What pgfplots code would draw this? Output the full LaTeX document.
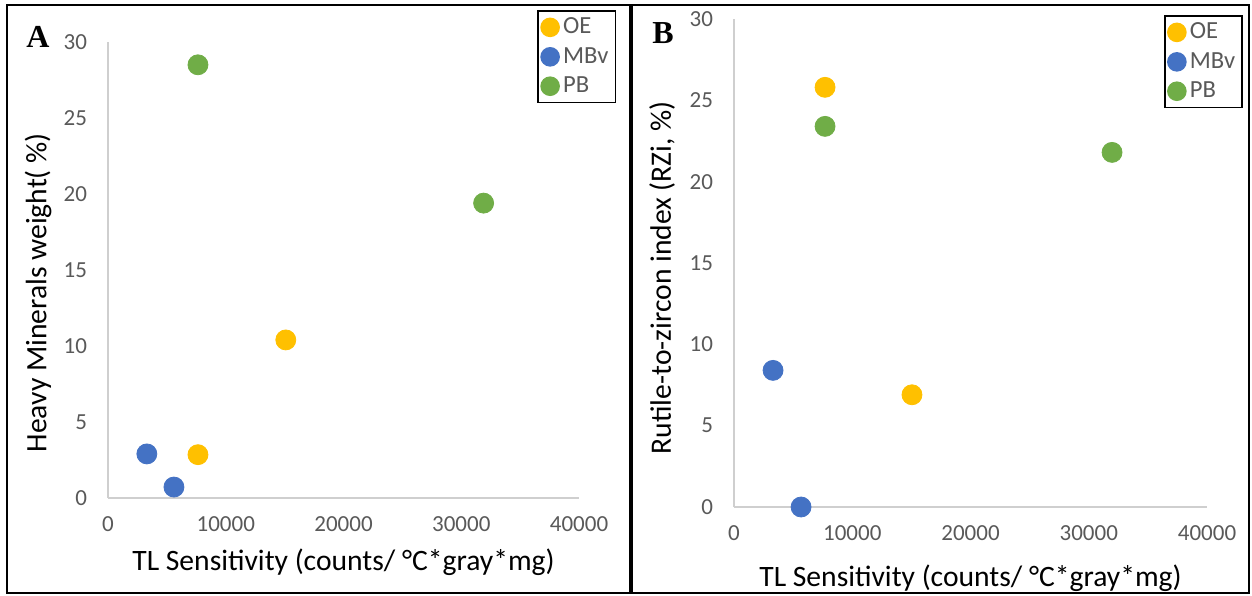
\documentclass[border=0pt]{standalone}
\usepackage{pgfplots}
\pgfplotsset{compat=1.18}
\usepackage{fontspec}
\setmainfont{Carlito}
\newfontfamily\panelfont{Liberation Serif}
\definecolor{oe}{HTML}{FFC000}
\definecolor{mbv}{HTML}{4472C4}
\definecolor{pb}{HTML}{70AD47}
\definecolor{tickgray}{HTML}{595959}
\definecolor{axgray}{HTML}{CFCFCF}

% shared look of both panels (1 px of the reference = 0.5pt)
\pgfplotsset{panel/.style={
  scale only axis, clip=false,
  xmin=0, xmax=40000, ymin=0, ymax=30,
  axis lines=left, axis line style={draw=axgray, line width=0.9pt, -},
  xtick={0,10000,20000,30000,40000}, ytick={0,5,10,15,20,25,30},
  major tick length=0pt, tick style={draw=none},
  /pgf/number format/assume math mode=true,
  /pgf/number format/1000 sep={}, scaled x ticks=false,
  tick label style={font=\fontsize{11.5}{12}\selectfont, text=tickgray},
  xticklabel style={yshift=-6pt},
  yticklabel style={xshift=-7pt},
  label style={font=\fontsize{14.8}{16}\selectfont},
  legend cell align=left,
  legend style={anchor=north east, draw=black, line width=0.8pt,
    font=\fontsize{12.3}{13}\selectfont, text=tickgray,
    inner xsep=1.5pt, inner ysep=1.5pt, row sep=1.3pt},
  legend image post style={mark size=4.5pt},
  every axis plot/.append style={only marks, mark=*, mark size=5pt}
}}

\begin{document}
\begin{tikzpicture}
\useasboundingbox (0,0) rectangle (626pt,297.5pt);

% panel frames
\draw[line width=1.2pt] (3.5pt,1pt) rectangle (315.5pt,295pt);
\draw[line width=1.2pt] (315.5pt,1pt) rectangle (624.5pt,295pt);
\draw[line width=1.8pt] (315.5pt,1pt) -- (315.5pt,295pt);

\node[font=\panelfont\bfseries\fontsize{16}{16}\selectfont] at (19pt,279pt) {A};
\node[font=\panelfont\bfseries\fontsize{16}{16}\selectfont] at (331.5pt,281pt) {B};

% panel A
\begin{axis}[panel, at={(54pt,48.5pt)}, anchor=south west,
  width=235.5pt, height=228pt,
  xlabel={TL Sensitivity (counts/ °C*gray*mg)},
  ylabel={Heavy Minerals weight( \%)},
  xlabel style={at={(axis description cs:0.5,0)}, anchor=center, yshift=-32pt},
  ylabel style={at={(axis description cs:0,0.45)}, anchor=center, yshift=35pt},
  legend style={at={(axis description cs:1.079,1.07)}}]
\addplot[color=oe, fill=oe] coordinates {(7640,2.85) (15100,10.4)};
\addplot[color=mbv, fill=mbv] coordinates {(3300,2.9) (5600,0.72)};
\addplot[color=pb, fill=pb] coordinates {(7640,28.5) (31900,19.4)};
\legend{OE,MBv,PB}
\end{axis}

% panel B
\begin{axis}[panel, at={(367pt,44pt)}, anchor=south west,
  width=236.5pt, height=244pt,
  xlabel={TL Sensitivity (counts/ °C*gray*mg)},
  ylabel={Rutile-to-zircon index (RZi, \%)},
  xlabel style={at={(axis description cs:0.5,0)}, anchor=center, yshift=-35.5pt},
  ylabel style={at={(axis description cs:0,0.47)}, anchor=center, yshift=36pt},
  legend style={at={(axis description cs:1.076,1.008)}}]
\addplot[color=oe, fill=oe] coordinates {(7700,25.8) (15050,6.9)};
\addplot[color=mbv, fill=mbv] coordinates {(3300,8.4) (5670,0)};
\addplot[color=pb, fill=pb] coordinates {(7700,23.4) (31970,21.8)};
\legend{OE,MBv,PB}
\end{axis}
\end{tikzpicture}
\end{document}
